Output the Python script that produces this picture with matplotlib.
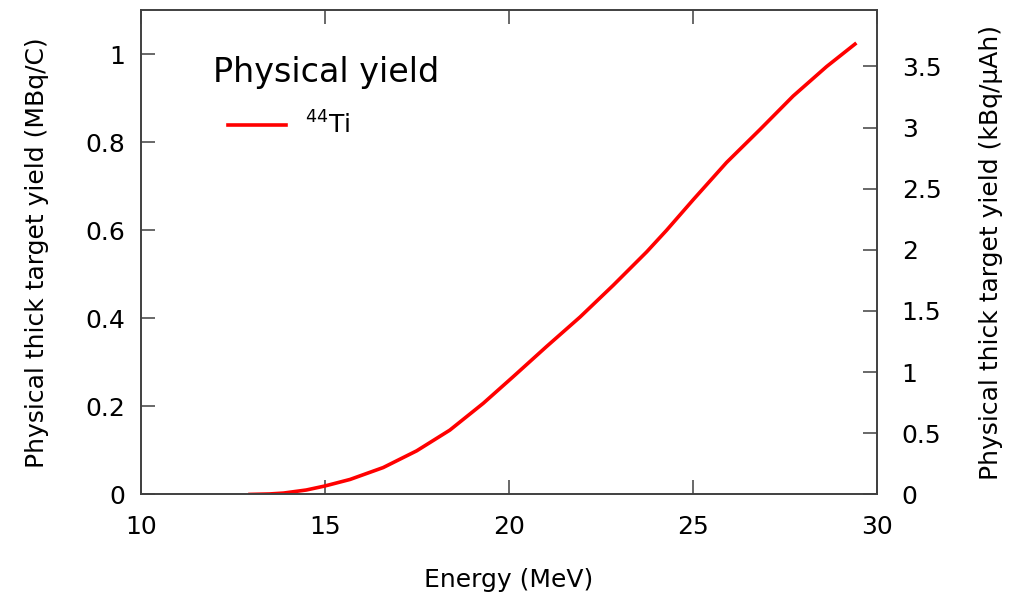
import matplotlib
matplotlib.use("Agg")
import matplotlib.pyplot as plt
from matplotlib.ticker import FuncFormatter

# Thick target yield of 44Ti vs. proton energy
energy = [12.97, 13.5, 13.88, 14.5, 15.0, 15.69, 16.59, 17.5, 18.4, 19.31,
          20.13, 21.03, 21.94, 22.84, 23.75, 24.29, 25.02, 25.92, 26.83,
          27.73, 28.64, 29.41]
yield_mbq_c = [0.0, 0.001, 0.003, 0.010, 0.019, 0.034, 0.061, 0.099, 0.146,
               0.207, 0.268, 0.336, 0.403, 0.475, 0.551, 0.600, 0.670, 0.754,
               0.829, 0.905, 0.972, 1.023]

# 1 MBq/C -> kBq/uAh
conv = 3.6

x_ticks = [10, 15, 20, 25, 30]
left_ticks = [0, 0.2, 0.4, 0.6, 0.8, 1]
right_ticks = [0, 0.5, 1, 1.5, 2, 2.5, 3, 3.5]

plt.rcParams["font.family"] = "DejaVu Sans"
frame_col = "#404040"

fig = plt.figure(figsize=(10.1, 6.0), dpi=100)
ax = fig.add_axes([0.1393, 0.176, 0.7287, 0.807])
ax2 = ax.twinx()

line, = ax.plot(energy, yield_mbq_c, color="#ff0000", lw=2.6,
                solid_joinstyle="round", label=r"$^{44}$Ti")

ax.set_xlim(10, 30)
ax.set_ylim(0, 1.1)
ax2.set_ylim(0, 1.1 * conv)

ax.set_xticks(x_ticks)
ax.set_yticks(left_ticks)
ax2.set_yticks(right_ticks)

fmt = FuncFormatter(lambda v, p: f"{v:g}")
ax.yaxis.set_major_formatter(fmt)
ax2.yaxis.set_major_formatter(fmt)

for a in (ax, ax2):
    for s in a.spines.values():
        s.set_color(frame_col)
        s.set_linewidth(1.2)

ax.tick_params(axis="x", which="major", direction="in", length=10, width=1.1,
               color=frame_col, top=True, bottom=True, labelsize=18, pad=15)
ax.tick_params(axis="y", which="major", direction="in", length=10, width=1.1,
               color=frame_col, left=True, right=False, labelsize=18, pad=11)
ax2.tick_params(axis="y", which="major", direction="in", length=10, width=1.1,
                color=frame_col, right=True, left=False, labelsize=18, pad=18)

ax.set_xlabel("Energy (MeV)", fontsize=18, labelpad=21)
ax.set_ylabel("Physical thick target yield (MBq/C)", fontsize=18, labelpad=26)
ax2.set_ylabel("Physical thick target yield (kBq/\u03bcAh)", fontsize=18, labelpad=27)

# plot title sits inside the frame, above the key
ax.text(0.0982, 0.851, "Physical yield", transform=ax.transAxes,
        fontsize=24, ha="left", va="baseline")

ax.legend(handles=[line], loc="upper left", bbox_to_anchor=(0.119, 0.79),
          frameon=False, fontsize=18, handlelength=2.3, handletextpad=0.75,
          borderaxespad=0.0, borderpad=0.0)

fig.savefig("out.png", dpi=100)
